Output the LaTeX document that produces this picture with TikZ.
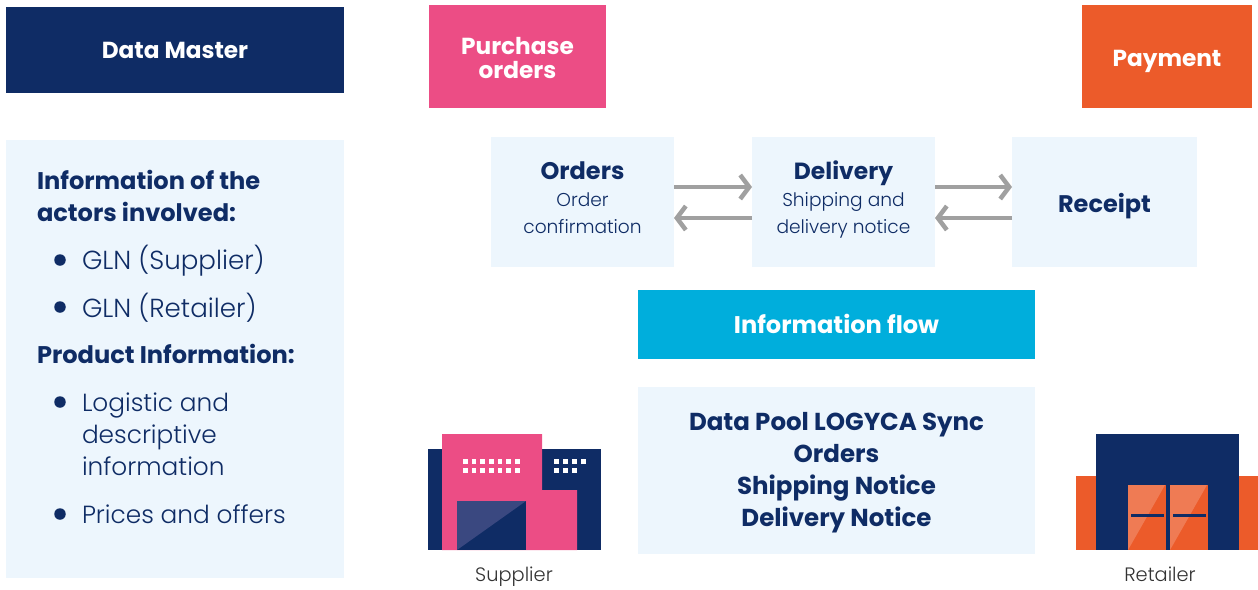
\documentclass[tikz,border=0pt]{standalone}
\usepackage{xcolor}
\usepackage{fontspec}
\setmainfont{Poppins}
\newfontfamily\thinfont{Poppins Light}
\usetikzlibrary{arrows.meta, positioning}

\definecolor{navy}{HTML}{0F2C65}
\definecolor{rose}{HTML}{EC4D85}
\definecolor{tangerine}{HTML}{EC5B2A}
\definecolor{sky}{HTML}{00AEDC}
\definecolor{pale}{HTML}{EDF6FD}
\definecolor{steel}{HTML}{A0A0A0}
\definecolor{dusk}{HTML}{3A4880}

\begin{document}
\begin{tikzpicture}[
    x=1pt, y=-1pt,
    box/.style={rectangle, outer sep=0pt, inner sep=0pt, align=center},
    head/.style={box, text=white, font=\fontsize{23.2}{24}\selectfont\bfseries},
    step box/.style={box, fill=pale, minimum width=183pt, minimum height=130pt, text=navy, text depth=0pt, text height=62pt, font=\fontsize{18.6}{27}\selectfont\thinfont},
    panel text/.style={anchor=west, inner sep=0pt, outer sep=0pt, align=left, text=navy, font=\fontsize{24.8}{32}\selectfont\thinfont},
    panel head/.style={panel text, font=\fontsize{24.1}{32}\selectfont\bfseries},
    dot/.style={circle, fill=navy, minimum size=11.5pt, inner sep=0pt},
    caption/.style={anchor=base, inner sep=0pt, text=black!80, font=\fontsize{19.4}{20}\selectfont\thinfont},
    arrow/.style={-{Straight Barb[length=9pt, width=24pt, line width=4.5pt]}, line width=4.5pt, steel}
]
\useasboundingbox (0,0) rectangle (1258,589);

% Left column
\node[head, fill=navy, minimum width=338pt, minimum height=86pt, anchor=north west] (master) at (6,7) {Data Master};
\node[box, fill=pale, minimum width=338pt, minimum height=438pt, below=47pt of master] (panel) {};

\node[panel head] (actors) at (37,196) {Information of the\\actors involved:};
\node[panel text, font=\fontsize{26.1}{32}\selectfont\thinfont] (gln1) at (82,261) {GLN (Supplier)};
\node[panel text, font=\fontsize{26.1}{32}\selectfont\thinfont] (gln2) at (82,308) {GLN (Retailer)};
\node[panel head] (product) at (37,354) {Product Information:};
\node[panel text] (logistic) at (82,434) {Logistic and\\descriptive\\information};
\node[panel text] (prices) at (82,514) {Prices and offers};
\node[dot] at (60,260) {};
\node[dot] at (60,307) {};
\node[dot] at (60,402) {};
\node[dot] at (60,514) {};

% Top row
\node[head, fill=rose, minimum width=177pt, minimum height=103pt, anchor=north west, text depth=0pt, text height=43pt] (purchase) at (429,5) {Purchase\\orders};
\node[head, fill=tangerine, minimum width=170pt, minimum height=103pt, anchor=north west, text depth=0pt, text height=19pt] (payment) at (1082,5) {Payment};

% Steps
\node[step box, anchor=north west] (orders) at (491,137) {{\fontsize{24}{30}\selectfont\bfseries\rmfamily Orders}\\Order\\confirmation};
\node[step box, right=78pt of orders] (delivery) {{\fontsize{23.4}{30}\selectfont\bfseries\rmfamily Delivery}\\Shipping and\\delivery notice};
\node[step box, right=77pt of delivery, minimum width=185pt, text height=20pt] (receipt) {{\fontsize{24}{30}\selectfont\bfseries\rmfamily Receipt}};

% Flow and data pool
\node[head, fill=sky, minimum width=397pt, minimum height=69pt, anchor=north west, font=\fontsize{24.1}{24}\selectfont\bfseries, text depth=0pt, text height=18pt] (flow) at (638,290) {Information flow};
\node[box, fill=pale, minimum width=397pt, minimum height=167pt, below=28pt of flow, text=navy, text depth=0pt, text height=111pt, font=\fontsize{24.5}{32}\selectfont\bfseries] (pool) {Data Pool LOGYCA Sync\\Orders\\Shipping Notice\\Delivery Notice};

% Arrows
\draw[arrow] ([yshift=15pt]orders.east) -- ([yshift=15pt]delivery.west);
\draw[arrow] ([yshift=-16pt]delivery.west) -- ([yshift=-16pt]orders.east);
\draw[arrow] ([yshift=15pt]delivery.east) -- ([yshift=15pt]receipt.west);
\draw[arrow] ([yshift=-16pt]receipt.west) -- ([yshift=-16pt]delivery.east);

% Supplier building
\fill[navy] (428,449) rectangle (601,550);
\fill[rose] (442,434) -- (542,434) -- (542,490) -- (577,490) -- (577,550) -- (442,550) -- cycle;
\fill[navy] (457,501) rectangle (526,550);
\fill[dusk] (457,501) -- (526,501) -- (457,550) -- cycle;
\foreach \i in {0,...,6} {
    \fill[white] (463+\i*8.67,459) rectangle +(4.6,4.6);
    \fill[white] (463+\i*8.67,468) rectangle +(4.6,4.6);
}
\foreach \i in {0,...,3} \fill[white] (554+\i*9,459) rectangle +(4.6,4.6);
\foreach \i in {0,...,2} \fill[white] (554+\i*9,468) rectangle +(4.6,4.6);
\node[caption] (supplier) at (514,581) {Supplier};

% Retailer building
\fill[tangerine] (1076,476) rectangle (1258,550);
\fill[navy] (1096,434) rectangle (1239,550);
\foreach \x in {1128,1170} {
    \fill[tangerine] (\x,485) rectangle (\x+38,550);
    \fill[white, opacity=.2] (\x,485) -- (\x+37,485) -- (\x,550) -- cycle;
    \fill[navy] (\x+3,514) rectangle (\x+36,517);
}
\node[caption] (retailer) at (1160,581) {Retailer};

\end{tikzpicture}
\end{document}
